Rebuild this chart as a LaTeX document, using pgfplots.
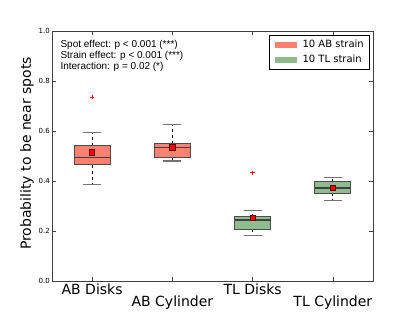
\documentclass[border=0pt]{standalone}
\usepackage{fontspec}
\setmainfont{DejaVu Sans}
\newfontfamily\arialfont{Liberation Sans}
\usepackage{pgfplots}
\pgfplotsset{compat=1.18}
\usepgfplotslibrary{statistics}
\definecolor{salmonc}{HTML}{FA8072}
\definecolor{greenc}{HTML}{8FBC8F}
\pgfplotsset{
  /pgfplots/boxplot/draw direction=y,
  /pgfplots/boxplot/box extend=0.45,
  /pgfplots/boxplot/whisker extend=0.225,
  /pgfplots/boxplot/every median/.style={draw=black!75, line width=1.1pt},
  /pgfplots/boxplot/draw/whisker/.code 2 args={
    \draw[black, line width=0.8pt, dash pattern=on 3pt off 3pt] (boxplot cs:#1) -- (boxplot cs:#2);
    \draw[black!55, line width=1.1pt, solid] (boxplot whisker cs:#2,0) -- (boxplot whisker cs:#2,1);
  },
}
\begin{document}
\begin{tikzpicture}
\path[use as bounding box] (0,0) rectangle (415pt,312pt);
\begin{axis}[
  at={(52pt,31pt)}, anchor=south west,
  scale only axis, width=321pt, height=250pt,
  xmin=0.5, xmax=4.5, ymin=0, ymax=1,
  xtick={1,2,3,4},
  xticklabels={AB Disks,{\raisebox{-12pt}[\height][\depth]{AB Cylinder}},TL Disks,{\raisebox{-12pt}[\height][\depth]{TL Cylinder}}},
  ytick={0,0.2,0.4,0.6,0.8,1.0},
  /pgf/number format/fixed,
  /pgf/number format/fixed zerofill,
  /pgf/number format/precision=1,
  /pgf/number format/assume math mode=true,
  yticklabel style={font=\fontsize{7}{8}\selectfont, inner sep=2pt},
  xticklabel style={font=\fontsize{14}{16}\selectfont, inner sep=2.5pt},
  tick align=inside, tick pos=both,
  major tick length=4pt,
  tick style={black!75, line width=0.6pt},
  axis line style={black!75, line width=0.8pt},
  ylabel={Probability to be near spots},
  ylabel style={font=\fontsize{14}{16}\selectfont, at={(axis description cs:-0.078,0.51)}, anchor=center},
  legend style={at={(0.988,0.984)}, anchor=north east, draw=black, line width=0.6pt,
    font=\fontsize{10}{12}\selectfont, inner xsep=3pt, inner ysep=3pt, row sep=2pt},
  legend cell align=left,
]
\addlegendimage{legend image code/.code={\path[draw=none,fill=none] (-2pt,0) -- (26pt,0); \fill[salmonc,draw=none] (0pt,-3pt) rectangle (22pt,3pt);}}
\addlegendentry{10 AB strain}
\addlegendimage{legend image code/.code={\path[draw=none,fill=none] (-2pt,0) -- (26pt,0); \fill[greenc,draw=none] (0pt,-3pt) rectangle (22pt,3pt);}}
\addlegendentry{10 TL strain}

\addplot[forget plot, boxplot prepared={draw direction=y, draw position=1, median=0.494, upper quartile=0.541, lower quartile=0.465, upper whisker=0.593, lower whisker=0.387, every box/.style={fill=salmonc}},
  draw=black!70, line width=1.1pt,
  mark=+, mark size=2.2pt, mark options={red, line width=0.5pt, solid}]
  table[row sep=\\, y index=0]{data\\0.735\\};
\addplot[forget plot, boxplot prepared={draw direction=y, draw position=2, median=0.533, upper quartile=0.549, lower quartile=0.493, upper whisker=0.627, lower whisker=0.480, every box/.style={fill=salmonc}},
  draw=black!70, line width=1.1pt,
  mark=+, mark size=2.2pt, mark options={red, line width=0.5pt, solid}]
  coordinates {};
\addplot[forget plot, boxplot prepared={draw direction=y, draw position=3, median=0.244, upper quartile=0.257, lower quartile=0.207, upper whisker=0.281, lower whisker=0.181, every box/.style={fill=greenc}},
  draw=black!70, line width=1.1pt,
  mark=+, mark size=2.2pt, mark options={red, line width=0.5pt, solid}]
  table[row sep=\\, y index=0]{data\\0.433\\};
\addplot[forget plot, boxplot prepared={draw direction=y, draw position=4, median=0.372, upper quartile=0.397, lower quartile=0.351, upper whisker=0.413, lower whisker=0.321, every box/.style={fill=greenc}},
  draw=black!70, line width=1.1pt,
  mark=+, mark size=2.2pt, mark options={red, line width=0.5pt, solid}]
  coordinates {};

\addplot[forget plot, only marks, mark=square*, mark size=2.6pt,
  mark options={fill=red, draw=black!60!red, line width=0.6pt}]
  coordinates {(1,0.515) (2,0.535) (3,0.252) (4,0.372)};

\node[anchor=west, inner sep=0pt, font=\arialfont\fontsize{10}{12}\selectfont] at (rel axis cs:0.026,0.944) {Spot effect: p < 0.001 (***)};
\node[anchor=west, inner sep=0pt, font=\arialfont\fontsize{10}{12}\selectfont] at (rel axis cs:0.026,0.900) {Strain effect: p < 0.001 (***)};
\node[anchor=west, inner sep=0pt, font=\arialfont\fontsize{10}{12}\selectfont] at (rel axis cs:0.026,0.857) {Interaction: p = 0.02 (*)};
\end{axis}
\end{tikzpicture}
\end{document}
